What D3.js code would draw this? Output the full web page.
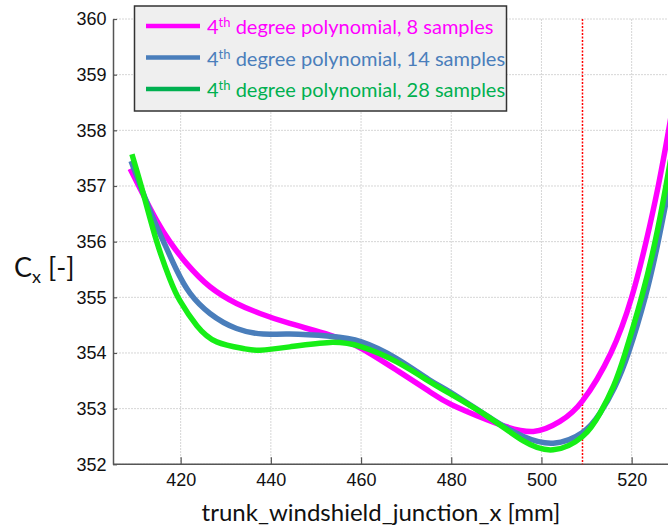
<!DOCTYPE html>
<html><head><meta charset="utf-8">
<script src="https://cdn.jsdelivr.net/npm/d3@7"></script>
<style>
html,body{margin:0;padding:0;background:#fff;overflow:hidden;}
svg{display:block;}
</style>
</head><body>
<svg id="chart" width="668" height="528"></svg>
<script>
// ---- data ----
const xTicks = [420, 440, 460, 480, 500, 520];
const yTicks = [352, 353, 354, 355, 356, 357, 358, 359, 360];
const seriesNames = ["8 samples", "14 samples", "28 samples"];
const seriesColors = ["#ff00ff", "#4a7ebb", "#16ee16"];
const legendColors = ["#ff00ff", "#4a7ebb", "#00b050"];
const markerX = 509.1;

const x8  = [408.8, 411.7, 414.7, 417.6, 421.3, 426.5, 432.4, 437.6, 444.2, 453.1, 460.1, 467.9, 475.3, 480.1, 487.9, 492.0, 498.2, 504.1, 509.1, 515.4, 520.0, 523.2, 525.9, 528.2, 530.0];
const y8  = [357.31, 356.84, 356.38, 356.00, 355.61, 355.19, 354.89, 354.71, 354.53, 354.32, 354.08, 353.69, 353.30, 353.07, 352.80, 352.68, 352.59, 352.77, 353.14, 354.00, 355.00, 356.00, 357.00, 358.00, 358.85];

const x14 = [409.0, 411.7, 414.0, 416.2, 419.1, 422.1, 426.5, 432.4, 438.3, 444.2, 453.1, 460.1, 467.9, 475.3, 480.1, 489.3, 496.0, 502.6, 509.1, 513.0, 516.2, 519.4, 523.0, 525.8, 528.3, 530.0];
const y14 = [357.45, 356.87, 356.40, 356.00, 355.49, 355.07, 354.71, 354.44, 354.34, 354.34, 354.30, 354.20, 353.90, 353.51, 353.28, 352.80, 352.50, 352.38, 352.57, 352.92, 353.38, 354.03, 355.00, 355.97, 357.00, 357.80];

const x28 = [409.2, 411.7, 414.7, 417.6, 419.9, 423.6, 428.0, 433.9, 437.6, 444.2, 453.1, 460.1, 467.9, 475.3, 480.1, 488.6, 496.0, 502.6, 509.1, 513.0, 516.0, 518.5, 522.2, 525.2, 527.6, 530.0];
const y28 = [357.57, 356.87, 356.00, 355.33, 354.93, 354.49, 354.20, 354.08, 354.05, 354.11, 354.19, 354.11, 353.84, 353.48, 353.25, 352.83, 352.42, 352.26, 352.50, 352.92, 353.41, 353.98, 355.00, 356.00, 357.00, 358.10];

const seriesX = [x8, x14, x28];
const seriesY = [y8, y14, y28];

// ---- layout ----
const svg = d3.select("#chart");
const mLeft = 113, mTop = 19, mBottom = 464.3, mRight = 668;
const x = d3.scaleLinear().domain([405, 530]).range([mLeft, mLeft + 125 * 4.51]);
const y = d3.scaleLinear().domain([352, 360]).range([mBottom, mTop]);

const defs = svg.append("defs");
defs.append("clipPath").attr("id", "plotclip")
  .append("rect").attr("x", mLeft).attr("y", mTop - 4).attr("width", 700).attr("height", mBottom - mTop + 4);

// grid
const grid = svg.append("g");
grid.selectAll("line.gx").data(xTicks).join("line")
  .attr("x1", d => x(d)).attr("x2", d => x(d)).attr("y1", mTop).attr("y2", mBottom)
  .attr("stroke", "#d6d6d6").attr("stroke-width", 1).attr("stroke-dasharray", "2,1");
grid.selectAll("line.gy").data(yTicks).join("line")
  .attr("x1", mLeft).attr("x2", mRight).attr("y1", d => y(d)).attr("y2", d => y(d))
  .attr("stroke", "#d6d6d6").attr("stroke-width", 1).attr("stroke-dasharray", "2,1");

// axes
const xAxis = d3.axisBottom(x).tickValues(xTicks).tickSizeInner(-7).tickSizeOuter(0).tickPadding(9);
const yAxis = d3.axisLeft(y).tickValues(yTicks).tickSizeInner(-4).tickSizeOuter(0).tickPadding(6.5);
const gx = svg.append("g").attr("transform", `translate(0,${mBottom})`).call(xAxis);
const gy = svg.append("g").attr("transform", `translate(${mLeft},0)`).call(yAxis);
[gx, gy].forEach(g => {
  g.select(".domain").attr("stroke", "#555").attr("stroke-width", 1.5);
  g.selectAll(".tick line").attr("stroke", "#555").attr("stroke-width", 1.2);
  g.selectAll(".tick text").attr("fill", "#111").style("font-family", "'Liberation Sans', Arial, sans-serif").style("font-size", "18px");
});
gx.select(".domain").attr("d", `M${mLeft},0H${mRight}`);

// red marker line
svg.append("line").attr("x1", x(markerX)).attr("x2", x(markerX)).attr("y1", mTop).attr("y2", mBottom)
  .attr("stroke", "#ff0000").attr("stroke-width", 1.5).attr("stroke-dasharray", "2,1.5");

// curves
const line = d3.line().x(d => x(d[0])).y(d => y(d[1])).curve(d3.curveNatural);
const plot = svg.append("g").attr("clip-path", "url(#plotclip)");
seriesX.forEach((xs, i) => {
  const pts = xs.map((v, j) => [v, seriesY[i][j]]);
  plot.append("path").datum(pts).attr("d", line)
    .attr("fill", "none").attr("stroke", seriesColors[i]).attr("stroke-width", 5.5)
    .attr("stroke-linejoin", "round").attr("stroke-linecap", "butt");
});

// legend
const lg = svg.append("g");
lg.append("rect").attr("x", 134.5).attr("y", 6).attr("width", 372).attr("height", 105)
  .attr("fill", "#efefef").attr("stroke", "#333").attr("stroke-width", 1.5);
const rowsY = [26, 57.5, 89];
seriesNames.forEach((name, i) => {
  lg.append("line").attr("x1", 146).attr("x2", 200).attr("y1", rowsY[i]).attr("y2", rowsY[i])
    .attr("stroke", legendColors[i]).attr("stroke-width", 4.5);
  const t = lg.append("text").attr("x", 207).attr("y", rowsY[i] + 8)
    .attr("fill", legendColors[i]).style("font-family", "Lato, 'Open Sans', sans-serif").style("font-size", "20px");
  t.append("tspan").text("4");
  t.append("tspan").attr("dy", -7).style("font-size", "13px").text("th");
  t.append("tspan").attr("dy", 7).text(" degree polynomial, " + name);
});

// axis titles
svg.append("text").attr("x", 381).attr("y", 521).attr("text-anchor", "middle")
  .attr("fill", "#111").style("font-family", "Lato, 'Open Sans', sans-serif").style("font-size", "24px")
  .text("trunk_windshield_junction_x [mm]");
const yl = svg.append("text").attr("x", 14).attr("y", 277)
  .attr("fill", "#111").style("font-family", "Lato, 'Open Sans', sans-serif").style("font-size", "27px");
yl.append("tspan").text("C");
yl.append("tspan").attr("dy", 6).style("font-size", "18px").text("x");
yl.append("tspan").attr("dy", -6).text(" [-]");
</script>
</body></html>
